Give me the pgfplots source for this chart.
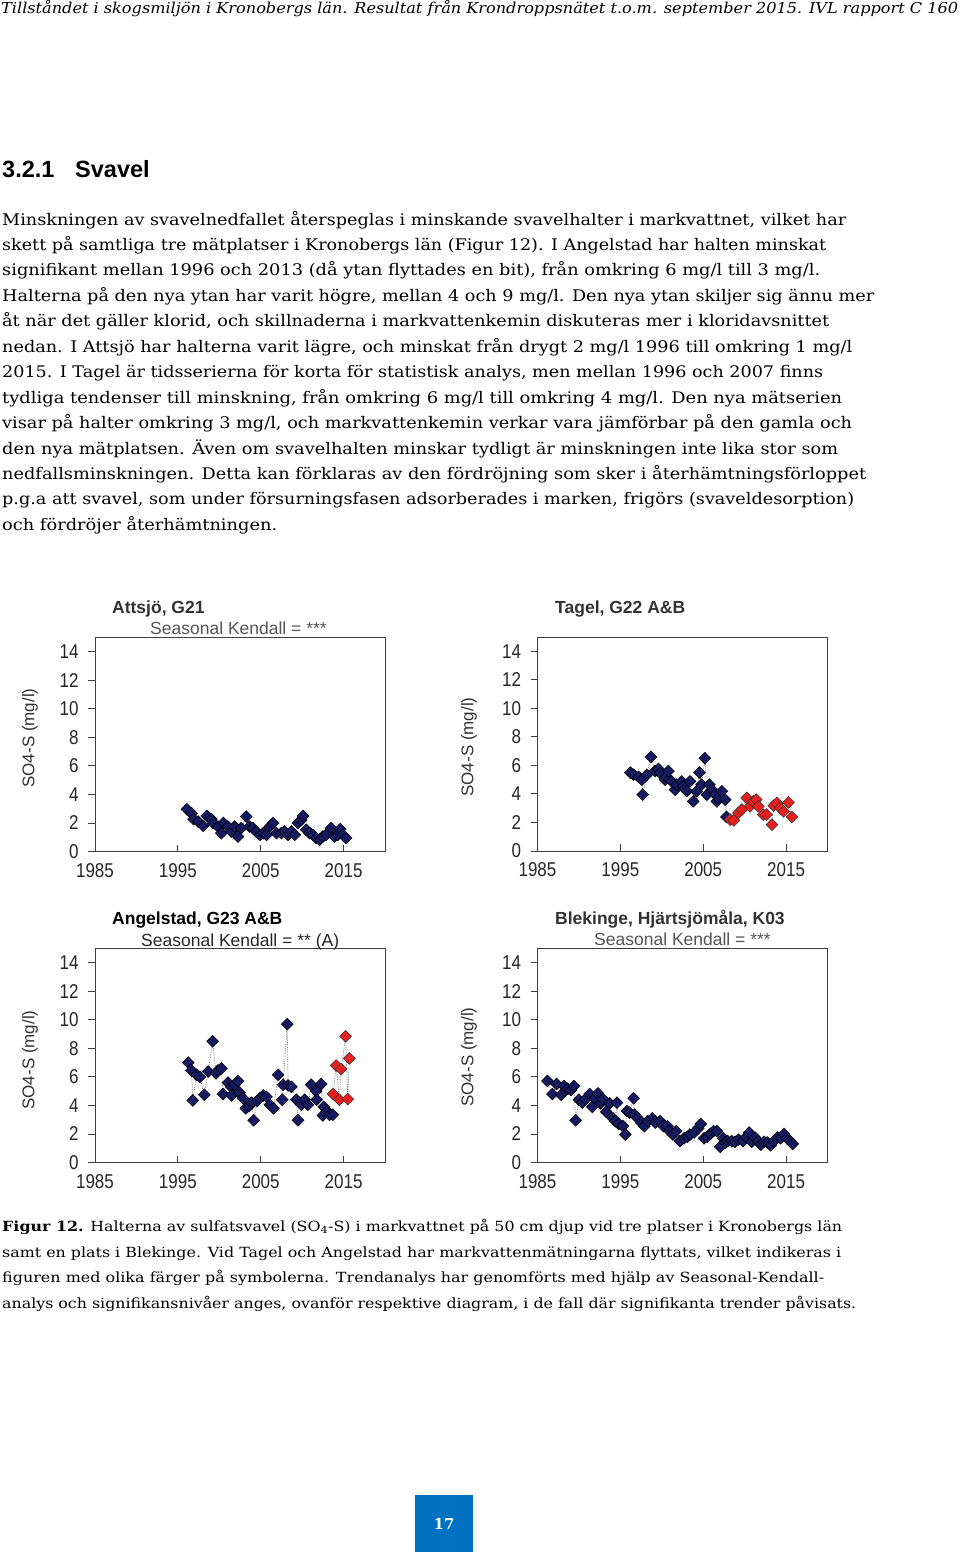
\documentclass[border=0pt]{standalone}
\usepackage{pgfplots}
\pgfplotsset{compat=1.18}
\usepackage{fontspec}
\setmainfont{DejaVu Serif}
\newfontfamily\sansf{Liberation Sans}
\newfontfamily\tickf[FakeStretch=0.85]{Liberation Sans}
\definecolor{navy}{RGB}{22,26,96}
\definecolor{redm}{RGB}{232,30,30}
\definecolor{pagebl}{RGB}{0,112,192}
\definecolor{ttl}{RGB}{50,50,50}
\definecolor{kend}{RGB}{85,85,85}

\pgfplotsset{
  so/.style={
    scale only axis, width=290pt, height=214pt,
    xmin=1985, xmax=2020, ymin=0, ymax=15,
    xtick={1985,1995,2005,2015}, xticklabels={1985,1995,2005,2015},
    ytick={0,2,...,14},
    tick pos=left,
    xtick align=inside, ytick align=outside,
    major tick length=7pt,
    axis line style={draw=black!75, line width=0.9pt},
    tick style={draw=black!75, line width=0.9pt},
    tick label style={font=\tickf\fontsize{20}{20}\selectfont, text=black!85},
    yticklabel style={xshift=-6pt},
    xticklabel style={yshift=-8pt},
    /pgf/number format/assume math mode=true,
    anchor=south west,
  },
  nv/.style={draw=black!55, densely dotted, line width=0.7pt, mark=square*, mark size=4.2pt,
    mark options={solid, rotate=45, fill=navy, draw=black, line width=0.5pt}},
  rd/.style={draw=black!55, densely dotted, line width=0.7pt, mark=square*, mark size=4.2pt,
    mark options={solid, rotate=45, fill=redm, draw=black!80, line width=0.5pt}},
}

\newcommand\bodyfnt{\fontsize{16}{19}\selectfont}
\newcommand\capfnt{\fontsize{14}{17}\selectfont}
\newcommand\BL[3]{\node[anchor=base west,inner sep=0pt] at (2,#1) {\resizebox{#2pt}{\height}{\bodyfnt #3}};}
\newcommand\CL[3]{\node[anchor=base west,inner sep=0pt] at (2,#1) {\resizebox{#2pt}{\height}{\capfnt #3}};}
\newcommand\ylab[2]{\node[rotate=90,inner sep=0pt,text=ttl] at (#1,#2) {\sansf\fontsize{17}{20}\selectfont SO4-S (mg/l)};}

\begin{document}
\begin{tikzpicture}[x=1pt,y=-1pt]
\path[use as bounding box] (0,0) rectangle (960,1559);

% header
\node[anchor=base west,inner sep=0pt] at (1,13) {\resizebox{957pt}{\height}{\fontsize{15}{18}\selectfont\itshape Tillståndet i skogsmiljön i Kronobergs län. Resultat från Krondroppsnätet t.o.m. september 2015. IVL rapport C 160}};

% heading
\node[anchor=base west,inner sep=0pt] at (2,177) {\sansf\bfseries\fontsize{23.5}{28}\selectfont 3.2.1};
\node[anchor=base west,inner sep=0pt] at (75,177) {\sansf\bfseries\fontsize{23.5}{28}\selectfont Svavel};

% body
\BL{225}{844}{Minskningen av svavelnedfallet återspeglas i minskande svavelhalter i markvattnet, vilket har}
\BL{250.45}{824}{skett på samtliga tre mätplatser i Kronobergs län (Figur 12). I Angelstad har halten minskat}
\BL{275.9}{818}{signifikant mellan 1996 och 2013 (då ytan flyttades en bit), från omkring 6 mg/l till 3 mg/l.}
\BL{301.35}{872}{Halterna på den nya ytan har varit högre, mellan 4 och 9 mg/l. Den nya ytan skiljer sig ännu mer}
\BL{326.8}{827}{åt när det gäller klorid, och skillnaderna i markvattenkemin diskuteras mer i kloridavsnittet}
\BL{352.25}{850}{nedan. I Attsjö har halterna varit lägre, och minskat från drygt 2 mg/l 1996 till omkring 1 mg/l}
\BL{377.7}{821}{2015. I Tagel är tidsserierna för korta för statistisk analys, men mellan 1996 och 2007 finns}
\BL{403.15}{840}{tydliga tendenser till minskning, från omkring 6 mg/l till omkring 4 mg/l. Den nya mätserien}
\BL{428.6}{850}{visar på halter omkring 3 mg/l, och markvattenkemin verkar vara jämförbar på den gamla och}
\BL{454.05}{836}{den nya mätplatsen. Även om svavelhalten minskar tydligt är minskningen inte lika stor som}
\BL{479.5}{864}{nedfallsminskningen. Detta kan förklaras av den fördröjning som sker i återhämtningsförloppet}
\BL{504.95}{852}{p.g.a att svavel, som under försurningsfasen adsorberades i marken, frigörs (svaveldesorption)}
\BL{530.4}{275}{och fördröjer återhämtningen.}

% ---------- charts ----------
% Attsjö
\begin{axis}[so, at={(95pt,-851.5pt)}]
\addplot[nv] coordinates {
(1996.1,2.96)(1996.65,2.68)(1996.9,2.27)(1997.45,2.1)(1998.05,1.8)(1998.5,2.5)(1999.05,2.27)(1999.25,2.0)
(1999.85,1.75)(2000.25,1.29)(2000.5,2.0)(2001.05,1.75)(2001.45,1.4)(2001.85,1.75)(2002.25,1.05)(2002.65,1.64)
(2003.25,2.45)(2003.65,1.75)(2004.05,1.64)(2004.45,1.4)(2004.9,1.17)(2005.3,1.29)(2005.7,1.17)(2006.1,1.75)
(2006.5,2.0)(2006.9,1.29)(2007.5,1.29)(2007.9,1.4)(2008.3,1.17)(2008.7,1.4)(2009.1,1.17)(2009.5,2.0)
(2009.9,2.2)(2010.1,2.5)(2010.5,1.52)(2010.9,1.29)(2011.3,1.17)(2011.7,0.94)(2012.1,0.82)(2012.5,1.05)
(2012.9,1.17)(2013.5,1.64)(2013.9,1.05)(2014.3,1.17)(2014.6,1.57)(2014.9,1.17)(2015.3,0.94)};
\end{axis}
\node[anchor=base west,inner sep=0pt,text=ttl] at (112,613) {\sansf\bfseries\fontsize{17.5}{20}\selectfont Attsjö, G21};
\node[anchor=base west,inner sep=0pt,text=kend] at (150,634) {\sansf\fontsize{17.5}{20}\selectfont Seasonal Kendall = ***};
\ylab{30}{738}

% Tagel
\begin{axis}[so, at={(537.5pt,-851pt)}]
\addplot[nv] coordinates {
(1996.2,5.5)(1996.6,5.35)(1997.2,5.2)(1997.6,5.0)(1997.7,3.95)(1998.2,5.35)(1998.7,6.6)(1999.2,5.6)
(1999.6,5.75)(1999.8,5.47)(2000.4,5.0)(2000.6,5.2)(2000.8,5.6)(2001.2,4.88)(2001.6,4.3)(2001.8,4.65)
(2002.4,4.88)(2002.6,4.53)(2003.0,4.2)(2003.4,4.88)(2003.8,3.48)(2004.2,4.18)(2004.55,5.5)(2004.8,4.65)
(2005.2,6.5)(2005.45,3.95)(2005.75,4.65)(2006.05,4.3)(2006.45,3.95)(2006.65,3.48)(2006.85,3.72)(2007.25,4.18)
(2007.65,3.6)(2007.8,2.39)};
\addplot[rd] coordinates {
(2008.25,2.2)(2008.7,2.15)(2009.25,2.67)(2009.65,2.9)(2010.25,3.72)(2010.65,3.13)(2011.05,3.48)(2011.4,3.6)
(2011.65,3.13)(2012.25,2.55)(2012.65,2.55)(2013.3,1.85)(2013.5,3.18)(2013.9,3.37)(2014.3,3.02)(2014.7,2.78)
(2015.3,3.41)(2015.7,2.39)};
\end{axis}
\node[anchor=base west,inner sep=0pt,text=ttl] at (555,613) {\sansf\bfseries\fontsize{17.5}{20}\selectfont Tagel, G22 A\&B};
\ylab{469}{747}

% Angelstad
\begin{axis}[so, at={(95pt,-1162.5pt)}]
\addplot[nv] coordinates {
(1996.25,7.0)(1996.65,6.45)(1996.8,4.35)(1997.25,6.15)(1997.65,6.0)(1998.2,4.75)(1998.65,6.38)(1999.2,8.5)
(1999.6,6.25)(1999.85,6.45)(2000.25,6.6)(2000.45,4.8)(2001.05,5.6)(2001.45,5.3)(2001.5,4.7)(2001.85,5.45)
(2002.25,5.7)(2002.45,4.9)(2002.85,4.5)(2003.2,3.8)(2003.6,3.95)(2003.9,4.2)(2004.15,2.96)(2004.55,4.3)
(2004.9,4.5)(2005.3,4.7)(2005.7,4.6)(2006.1,4.05)(2006.55,3.8)(2007.1,6.15)(2007.6,4.4)(2007.7,5.45)
(2008.2,9.7)(2008.3,5.4)(2008.7,5.3)(2009.3,4.4)(2009.5,2.96)(2009.9,4.05)(2010.3,4.4)(2010.7,4.05)
(2011.1,5.45)(2011.7,5.0)(2011.75,4.4)(2012.3,5.5)(2012.5,3.3)(2012.6,3.9)(2013.0,3.6)(2013.3,3.35)
(2013.7,3.35)};
\addplot[rd] coordinates {
(2013.75,4.8)(2014.1,6.8)(2014.5,4.4)(2014.7,6.55)(2015.25,8.85)(2015.5,4.45)(2015.7,7.3)};
\end{axis}
\node[anchor=base west,inner sep=0pt,text=black] at (112,924.5) {\sansf\bfseries\fontsize{17.5}{20}\selectfont Angelstad, G23 A\&B};
\node[anchor=base west,inner sep=0pt,text=black!85] at (141,946) {\sansf\fontsize{17.5}{20}\selectfont Seasonal Kendall = ** (A)};
\ylab{30}{1060}

% Blekinge
\begin{axis}[so, at={(537.5pt,-1162.5pt)}]
\addplot[nv] coordinates {
(1986.2,5.72)(1986.8,4.8)(1987.3,5.5)(1987.85,4.75)(1988.2,5.36)(1988.65,5.17)(1989.05,5.08)(1989.4,5.36)
(1989.6,2.96)(1990.0,4.4)(1990.4,4.2)(1990.8,4.45)(1991.3,4.8)(1991.6,3.9)(1991.9,4.5)(1992.3,4.85)
(1992.6,4.15)(1992.9,4.45)(1993.3,3.55)(1993.7,4.15)(1994.1,3.1)(1994.4,2.9)(1994.6,4.2)(1994.8,2.7)
(1995.3,2.55)(1995.6,1.96)(1995.8,3.6)(1996.1,3.5)(1996.6,4.5)(1996.7,3.35)(1997.1,3.1)(1997.5,2.8)
(1997.9,2.55)(1998.3,2.9)(1998.85,3.1)(1999.2,2.8)(1999.8,2.9)(2000.2,2.55)(2000.7,2.55)(2000.95,2.2)
(2001.35,1.96)(2001.75,2.2)(2002.2,1.5)(2002.7,1.7)(2003.1,1.8)(2003.4,1.96)(2003.9,2.1)(2004.4,2.4)
(2004.7,2.7)(2005.1,1.7)(2005.5,1.8)(2005.85,2.0)(2006.25,2.2)(2006.65,2.2)(2007.05,1.1)(2007.4,1.7)
(2007.65,1.4)(2007.95,1.5)(2008.45,1.5)(2008.85,1.45)(2009.25,1.6)(2009.8,1.5)(2010.2,1.8)(2010.55,2.1)
(2010.85,1.45)(2011.25,1.75)(2011.65,1.5)(2011.95,1.25)(2012.35,1.45)(2012.75,1.4)(2013.15,1.2)(2013.55,1.5)
(2013.95,1.75)(2014.35,1.7)(2014.75,2.0)(2015.1,1.7)(2015.5,1.5)(2015.8,1.3)};
\end{axis}
\node[anchor=base west,inner sep=0pt,text=ttl] at (555,924) {\sansf\bfseries\fontsize{17.5}{20}\selectfont Blekinge, Hjärtsjömåla, K03};
\node[anchor=base west,inner sep=0pt,text=kend] at (594,945.5) {\sansf\fontsize{17.5}{20}\selectfont Seasonal Kendall = ***};
\ylab{469}{1057}

% caption
\CL{1231}{840}{\textbf{Figur 12.} Halterna av sulfatsvavel (SO\textsubscript{4}-S) i markvattnet på 50 cm djup vid tre platser i Kronobergs län}
\CL{1257}{839}{samt en plats i Blekinge. Vid Tagel och Angelstad har markvattenmätningarna flyttats, vilket indikeras i}
\CL{1282}{822}{figuren med olika färger på symbolerna. Trendanalys har genomförts med hjälp av Seasonal-Kendall-}
\CL{1308}{854}{analys och signifikansnivåer anges, ovanför respektive diagram, i de fall där signifikanta trender påvisats.}

% page number
\fill[pagebl] (415,1495) rectangle (473,1552);
\node[text=white] at (444,1524) {\bfseries\fontsize{15}{18}\selectfont 17};
\end{tikzpicture}
\end{document}
